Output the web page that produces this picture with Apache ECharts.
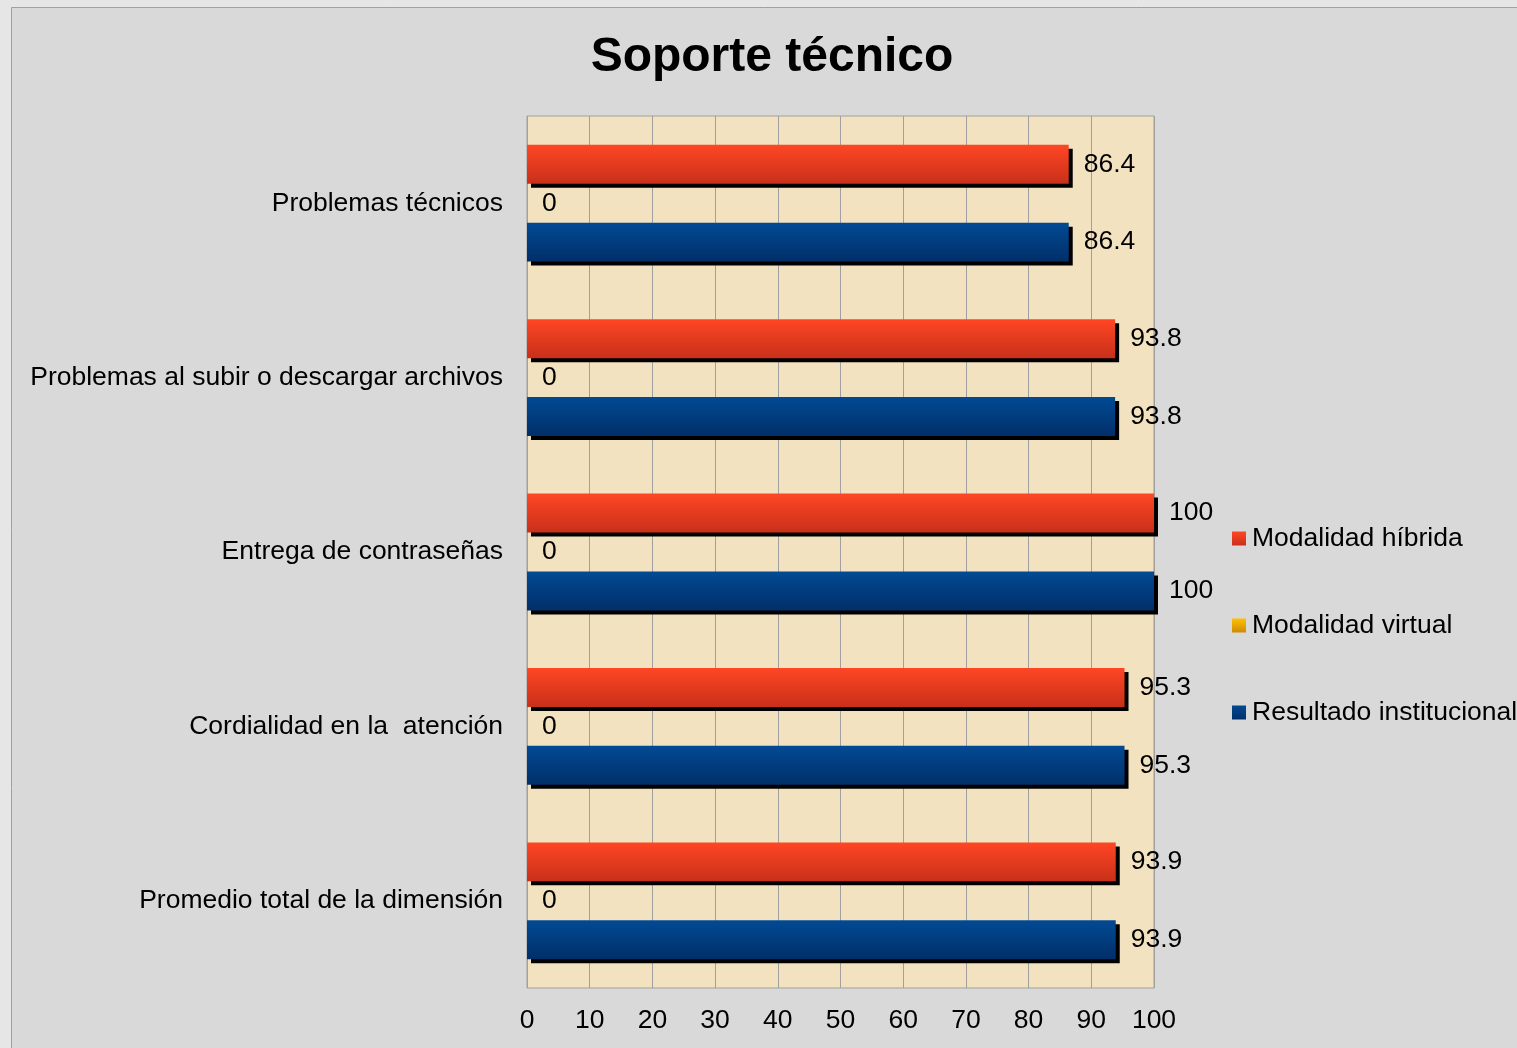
<!DOCTYPE html>
<html>
<head>
<meta charset="utf-8">
<script src="https://cdn.jsdelivr.net/npm/echarts@6/dist/echarts.min.js"></script>
<style>
html,body{margin:0;padding:0;background:#e6e6e6;}
#main{width:1517px;height:1048px;}
</style>
</head>
<body>
<div id="main"></div>
<script>
// categorias y valores
var categorias = ['Problemas técnicos', 'Problemas al subir o descargar archivos', 'Entrega de contraseñas', 'Cordialidad en la  atención', 'Promedio total de la dimensión'];
var hibrida = [86.4, 93.8, 100, 95.3, 93.9];
var virtual = [0, 0, 0, 0, 0];
var institucional = [86.4, 93.8, 100, 95.3, 93.9];
var ticks = [0, 10, 20, 30, 40, 50, 60, 70, 80, 90, 100];

var myChart = echarts.init(document.getElementById('main'));

function grad(c1, c2){
	return new echarts.graphic.LinearGradient(0, 0, 0, 1, [
		{offset: 0, color: c1},
		{offset: 1, color: c2}
	]);
}
var etiqueta = {
	show: true,
	position: 'right',
	distance: 15,
	color: '#000',
	fontSize: 26.5,
	fontFamily: 'Liberation Sans',
	padding: [3, 0, 0, 0]
};
var sombra = {shadowColor: '#000', shadowOffsetX: 4, shadowOffsetY: 4, shadowBlur: 0};

var option = {
	backgroundColor: 'transparent',
	animation: false,
	textStyle: {fontFamily: 'Liberation Sans'},
	graphic: [{
		type: 'rect',
		left: 11, top: 7,
		shape: {width: 1520, height: 1060},
		style: {fill: '#d9d9d9', stroke: '#a0a0a0', lineWidth: 1},
		z: -10
	}],
	title: {
		text: 'Soporte técnico',
		left: 767,
		textAlign: 'center',
		top: 29,
		textStyle: {fontSize: 48, fontWeight: 'bold', color: '#000', fontFamily: 'Liberation Sans'}
	},
	legend: {
		orient: 'vertical',
		left: 1232,
		top: 525,
		padding: 0,
		itemWidth: 14,
		itemHeight: 14,
		itemGap: 60,
		icon: 'rect',
		textStyle: {fontSize: 26.5, color: '#000', padding: [0, 0, 0, 1]},
		itemStyle: {shadowColor: 'transparent', shadowBlur: 0, shadowOffsetX: 0, shadowOffsetY: 0},
		data: ['Modalidad híbrida', 'Modalidad virtual', 'Resultado institucional']
	},
	grid: {
		left: 527,
		right: 363,
		top: 116,
		bottom: 60,
		show: true,
		backgroundColor: '#f2e2c0',
		borderColor: '#a0a0a0',
		borderWidth: 1
	},
	xAxis: {
		type: 'value',
		min: 0,
		max: 100,
		interval: 10,
		axisLine: {show: false},
		axisTick: {show: false},
		splitLine: {show: true, lineStyle: {color: '#a0a0a0', width: 1}},
		axisLabel: {fontSize: 26.5, color: '#000', margin: 19}
	},
	yAxis: {
		type: 'category',
		inverse: true,
		data: categorias,
		axisLine: {show: false},
		axisTick: {show: false},
		axisLabel: {fontSize: 26.5, color: '#000', margin: 24}
	},
	series: [
		{
			name: 'Modalidad híbrida',
			type: 'bar',
			data: hibrida,
			barGap: '0%',
			barCategoryGap: '33%',
			itemStyle: Object.assign({color: grad('#ff4624', '#c8301a')}, sombra),
			label: etiqueta
		},
		{
			name: 'Modalidad virtual',
			type: 'bar',
			data: virtual,
			itemStyle: Object.assign({color: grad('#ffc000', '#d08a00')}, sombra),
			label: etiqueta
		},
		{
			name: 'Resultado institucional',
			type: 'bar',
			data: institucional,
			itemStyle: Object.assign({color: grad('#024a94', '#012f69')}, sombra),
			label: etiqueta
		}
	]
};
if(option && typeof option === "object") {
	myChart.setOption(option, true);
}
</script>
</body>
</html>
